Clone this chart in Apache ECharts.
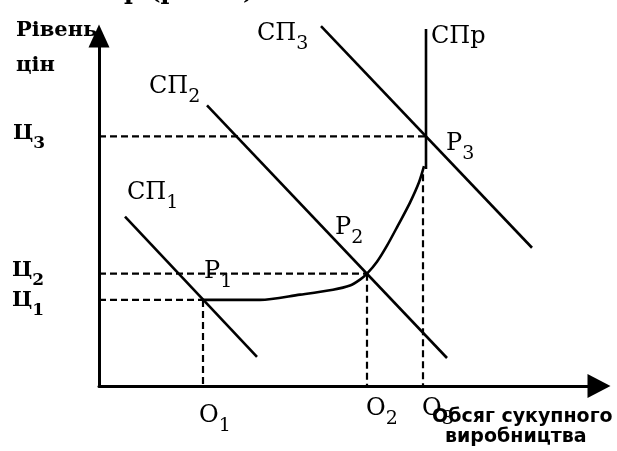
<!DOCTYPE html>
<html>
<head>
<meta charset="utf-8">
<script src="https://cdn.jsdelivr.net/npm/echarts@6/dist/echarts.min.js"></script>
<style>
  html, body { margin: 0; padding: 0; background: #fff; }
  #chart { width: 617px; height: 451px; }
</style>
</head>
<body>
<div id="chart"></div>
<script>
// сукупна пропозиція: горизонтальний і проміжний відрізки
const asX = [20.8, 32.2, 40.2, 46.8, 50.2, 52.2, 53.6, 55.6, 57.6, 59.8, 62.2, 64.0, 65.0];
const asY = [24.6, 24.6, 26.1, 27.5, 28.7, 30.4, 32.1, 35.5, 40.1, 45.9, 52.4, 58.2, 62.8];
// вертикальний відрізок СПр
const sprX = [65.4, 65.4];
const sprY = [62.0, 102.0];

// криві сукупного попиту СП1, СП2, СП3
const sp1X = [5.2, 31.6];
const sp1Y = [48.4, 8.3];
const sp2X = [21.6, 69.6];
const sp2Y = [80.2, 8.0];
const sp3X = [44.4, 86.6];
const sp3Y = [102.8, 39.5];

// рівні цін Ц1..Ц3 та обсяги О1..О3
const priceLevels = [24.6, 32.1, 71.3];
const priceEndX = [20.8, 53.6, 65.4];
const outputLevels = [20.8, 53.6, 64.8];
const outputTopY = [24.6, 32.1, 60.5];

const chart = echarts.init(document.getElementById('chart'));

const solid = { color: '#000', width: 2.6 };
const dashed = { color: '#000', width: 2.2, type: [7, 4] };

function pairs(xs, ys) {
  return xs.map((x, i) => [x, ys[i]]);
}

function lineSeries(data, style, smooth) {
  return {
    type: 'line',
    data: data,
    symbol: 'none',
    smooth: smooth || false,
    clip: false,
    silent: true,
    lineStyle: style
  };
}

const series = [
  lineSeries(pairs(asX, asY), solid, 0.3),
  lineSeries(pairs(sprX, sprY), solid),
  lineSeries(pairs(sp1X, sp1Y), solid),
  lineSeries(pairs(sp2X, sp2Y), solid),
  lineSeries(pairs(sp3X, sp3Y), solid)
];
priceLevels.forEach((p, i) => {
  series.push(lineSeries([[0, p], [priceEndX[i], p]], dashed));
});
outputLevels.forEach((q, i) => {
  series.push(lineSeries([[q, outputTopY[i]], [q, 0]], dashed));
});

// підписи
const serif = 'DejaVu Serif';
function lbl(x, y, main, sub, size, weight) {
  const s = size || 24;
  const ss = Math.round(s * 0.8);
  return {
    type: 'text',
    silent: true,
    style: {
      x: x,
      y: y + 2,
      text: sub ? '{b|' + main + '}{s|' + sub + '}' : '{b|' + main + '}',
      align: 'left',
      verticalAlign: 'middle',
      fill: '#000',
      rich: {
        b: { fontFamily: serif, fontSize: s, fontWeight: weight || 'normal', lineHeight: s + 8, verticalAlign: 'top' },
        s: { fontFamily: serif, fontSize: ss, fontWeight: weight || 'normal',
             lineHeight: ss, verticalAlign: 'bottom' }
      }
    }
  };
}
function plain(x, y, text, font) {
  return {
    type: 'text',
    silent: true,
    style: { x: x, y: y, text: text, font: font, fill: '#000', align: 'left', verticalAlign: 'middle' }
  };
}

const graphics = [
  // обрізаний рядок тексту над рисунком
  plain(124, -7, 'р (рис. 4)', 'bold 24px "DejaVu Serif"'),
  plain(16, 31, 'Рівень', 'bold 21px "DejaVu Serif"'),
  plain(16, 66, 'цін', 'bold 21px "DejaVu Serif"'),
  lbl(257, 36, 'СП', '3'),
  plain(431, 37, 'СПр', '24px "DejaVu Serif"'),
  lbl(149, 89, 'СП', '2'),
  lbl(127, 195, 'СП', '1'),
  lbl(13, 136, 'Ц', '3', 21, 'bold'),
  lbl(12, 273, 'Ц', '2', 21, 'bold'),
  lbl(12, 303, 'Ц', '1', 21, 'bold'),
  lbl(446, 146, 'Р', '3'),
  lbl(335, 230, 'Р', '2'),
  lbl(204, 274, 'Р', '1'),
  lbl(199, 418, 'О', '1'),
  lbl(366, 411, 'О', '2'),
  lbl(422, 411, 'О', '3'),
  plain(432, 417, 'Обсяг сукупного', 'bold 19px "DejaVu Sans"'),
  plain(445, 437, 'виробництва', 'bold 19px "DejaVu Sans"')
];

const axisCommon = {
  type: 'value',
  min: 0,
  max: 100,
  splitLine: { show: false },
  axisTick: { show: false },
  axisLabel: { show: false },
  axisLine: {
    show: true,
    symbol: ['none', 'triangle'],
    lineStyle: { color: '#000', width: 3 }
  }
};

chart.setOption({
  animation: false,
  backgroundColor: '#fff',
  grid: { left: 99, right: 18, top: 36, bottom: 65 },
  xAxis: Object.assign({}, axisCommon, {
    axisLine: Object.assign({}, axisCommon.axisLine, { symbolSize: [24, 23] })
  }),
  yAxis: Object.assign({}, axisCommon, {
    axisLine: Object.assign({}, axisCommon.axisLine, { symbolSize: [21, 23] })
  }),
  series: series,
  graphic: graphics
});
</script>
</body>
</html>
